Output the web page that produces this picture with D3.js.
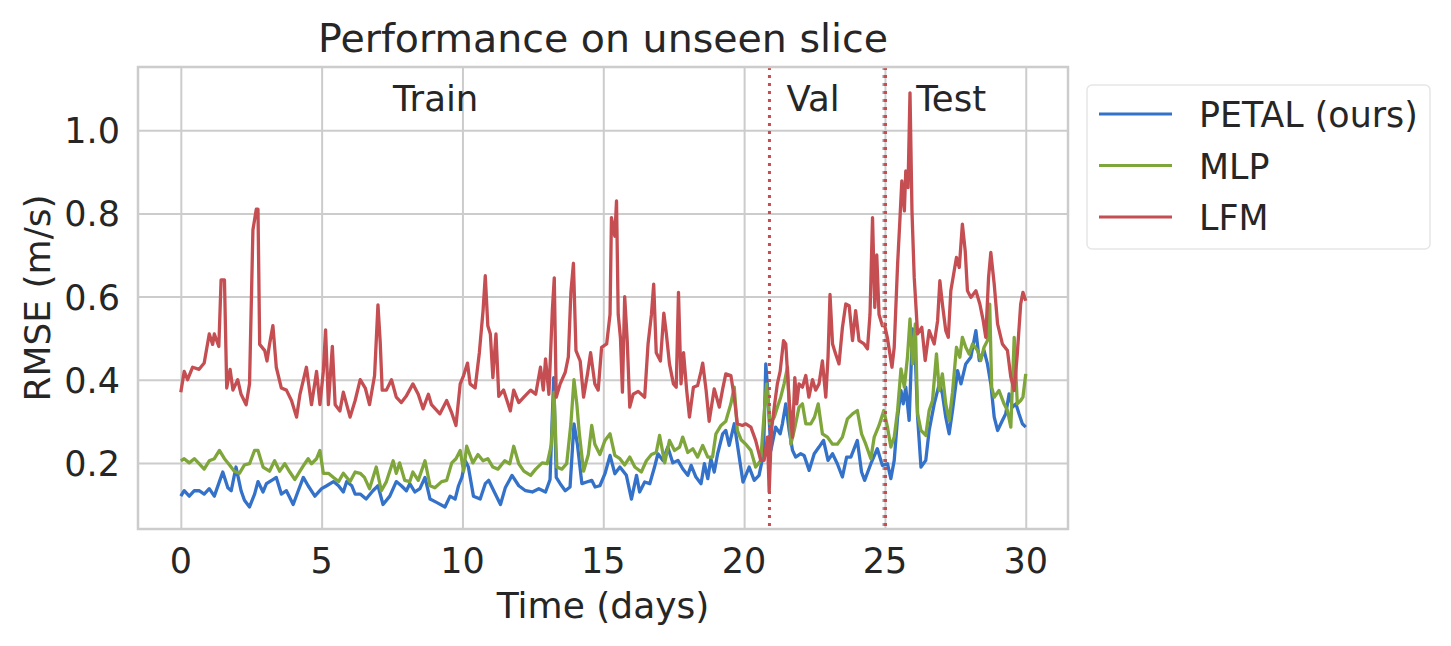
<!DOCTYPE html>
<html>
<head>
<meta charset="utf-8">
<script src="https://cdn.jsdelivr.net/npm/d3@7"></script>
<style>
  body{margin:0;background:#fff;}
  text{font-family:"DejaVu Sans",sans-serif;fill:#262626;}
</style>
</head>
<body>
<svg width="1451" height="646"></svg>
<script>
// данные: [день, RMSE]
const petal=[[0,0.12],[0.12,0.133],[0.3,0.12],[0.48,0.133],[0.65,0.133],[0.83,0.125],[1.01,0.138],[1.19,0.12],[1.37,0.155],[1.49,0.178],[1.67,0.14],[1.79,0.133],[1.96,0.19],[2.14,0.133],[2.26,0.11],[2.44,0.094],[2.62,0.125],[2.74,0.155],[2.92,0.13],[3.04,0.15],[3.27,0.16],[3.39,0.165],[3.57,0.125],[3.75,0.133],[3.99,0.1],[4.17,0.133],[4.35,0.165],[4.52,0.145],[4.76,0.12],[5.0,0.138],[5.18,0.145],[5.42,0.155],[5.6,0.145],[5.77,0.13],[5.89,0.155],[6.07,0.145],[6.19,0.125],[6.37,0.125],[6.58,0.113],[6.82,0.133],[7.0,0.145],[7.18,0.1],[7.42,0.12],[7.65,0.155],[7.83,0.145],[8.01,0.133],[8.13,0.15],[8.31,0.13],[8.49,0.138],[8.67,0.165],[8.85,0.113],[9.08,0.105],[9.38,0.094],[9.56,0.12],[9.74,0.113],[9.86,0.145],[9.98,0.165],[10.1,0.205],[10.21,0.19],[10.39,0.12],[10.63,0.113],[10.81,0.15],[10.93,0.158],[11.11,0.133],[11.35,0.1],[11.52,0.14],[11.76,0.17],[12.0,0.145],[12.24,0.133],[12.48,0.13],[12.71,0.138],[12.95,0.13],[13.11,0.16],[13.24,0.405],[13.33,0.165],[13.47,0.15],[13.65,0.133],[13.82,0.142],[13.96,0.294],[14.08,0.245],[14.24,0.15],[14.41,0.154],[14.59,0.158],[14.71,0.142],[14.88,0.145],[15.06,0.174],[15.24,0.218],[15.41,0.174],[15.59,0.19],[15.82,0.17],[16.0,0.113],[16.18,0.17],[16.29,0.13],[16.47,0.154],[16.65,0.15],[16.82,0.19],[16.94,0.222],[17.12,0.206],[17.29,0.238],[17.47,0.2],[17.65,0.206],[17.82,0.186],[18.0,0.17],[18.12,0.194],[18.29,0.166],[18.47,0.15],[18.59,0.198],[18.71,0.162],[18.82,0.21],[18.94,0.178],[19.06,0.222],[19.24,0.27],[19.35,0.278],[19.47,0.242],[19.65,0.294],[19.76,0.245],[19.88,0.19],[19.96,0.154],[20.18,0.19],[20.36,0.158],[20.53,0.17],[20.69,0.222],[20.77,0.438],[20.83,0.382],[20.95,0.23],[21.12,0.286],[21.28,0.27],[21.36,0.294],[21.48,0.342],[21.6,0.278],[21.72,0.23],[21.83,0.214],[22.01,0.222],[22.13,0.218],[22.31,0.182],[22.49,0.222],[22.66,0.238],[22.82,0.254],[22.98,0.206],[23.14,0.222],[23.31,0.198],[23.49,0.166],[23.64,0.214],[23.79,0.214],[24.02,0.254],[24.17,0.178],[24.28,0.158],[24.5,0.198],[24.73,0.234],[24.91,0.194],[25.09,0.198],[25.21,0.162],[25.33,0.206],[25.45,0.31],[25.57,0.374],[25.65,0.342],[25.74,0.382],[25.86,0.302],[25.98,0.522],[26.08,0.454],[26.16,0.31],[26.28,0.19],[26.45,0.206],[26.57,0.278],[26.75,0.342],[26.93,0.39],[27.04,0.366],[27.16,0.31],[27.28,0.27],[27.4,0.326],[27.58,0.422],[27.7,0.39],[27.87,0.438],[28.05,0.454],[28.23,0.518],[28.35,0.446],[28.52,0.47],[28.64,0.438],[28.76,0.39],[28.88,0.31],[29.0,0.278],[29.17,0.302],[29.29,0.318],[29.41,0.366],[29.53,0.334],[29.65,0.342],[29.76,0.318],[29.88,0.294],[30.0,0.286]];

const mlp=[[0,0.205],[0.12,0.21],[0.3,0.2],[0.48,0.21],[0.65,0.198],[0.83,0.185],[1.01,0.205],[1.19,0.21],[1.37,0.23],[1.55,0.21],[1.73,0.195],[1.9,0.18],[2.08,0.175],[2.26,0.195],[2.44,0.198],[2.62,0.23],[2.74,0.23],[2.92,0.19],[3.15,0.18],[3.33,0.205],[3.51,0.18],[3.69,0.198],[3.87,0.178],[4.05,0.16],[4.23,0.18],[4.4,0.198],[4.52,0.21],[4.64,0.198],[4.82,0.21],[4.94,0.23],[5.06,0.175],[5.24,0.175],[5.42,0.165],[5.6,0.155],[5.77,0.175],[6.01,0.155],[6.19,0.178],[6.37,0.175],[6.52,0.165],[6.7,0.138],[6.94,0.19],[7.12,0.133],[7.3,0.155],[7.54,0.205],[7.65,0.175],[7.77,0.2],[7.95,0.158],[8.13,0.155],[8.24,0.178],[8.43,0.158],[8.67,0.205],[8.85,0.145],[9.02,0.14],[9.26,0.155],[9.44,0.158],[9.62,0.2],[9.77,0.21],[9.92,0.23],[10.04,0.18],[10.15,0.24],[10.37,0.2],[10.55,0.22],[10.73,0.205],[10.9,0.21],[11.08,0.19],[11.26,0.185],[11.5,0.205],[11.68,0.198],[11.82,0.24],[12.0,0.198],[12.18,0.18],[12.42,0.17],[12.6,0.185],[12.83,0.2],[13.01,0.198],[13.16,0.245],[13.25,0.37],[13.35,0.19],[13.53,0.185],[13.7,0.198],[13.85,0.294],[13.96,0.4],[14.06,0.342],[14.15,0.27],[14.3,0.18],[14.47,0.22],[14.59,0.29],[14.7,0.245],[14.88,0.22],[15.06,0.254],[15.24,0.27],[15.41,0.218],[15.59,0.21],[15.76,0.195],[15.94,0.214],[16.12,0.19],[16.35,0.178],[16.53,0.205],[16.71,0.22],[16.88,0.225],[17.0,0.266],[17.18,0.2],[17.35,0.254],[17.53,0.23],[17.71,0.238],[17.82,0.262],[18.0,0.225],[18.18,0.234],[18.35,0.214],[18.53,0.242],[18.71,0.214],[18.88,0.214],[19.0,0.27],[19.18,0.29],[19.35,0.3],[19.53,0.342],[19.65,0.382],[19.76,0.278],[19.9,0.255],[20.06,0.245],[20.24,0.23],[20.41,0.19],[20.59,0.206],[20.73,0.334],[20.8,0.39],[20.92,0.294],[21.07,0.31],[21.18,0.334],[21.3,0.358],[21.42,0.39],[21.54,0.43],[21.66,0.245],[21.78,0.278],[21.95,0.334],[22.07,0.342],[22.19,0.294],[22.37,0.294],[22.5,0.31],[22.63,0.342],[22.78,0.27],[22.96,0.262],[23.14,0.245],[23.31,0.245],[23.49,0.262],[23.67,0.306],[23.85,0.318],[24.02,0.326],[24.17,0.27],[24.32,0.245],[24.5,0.21],[24.62,0.262],[24.79,0.29],[24.96,0.326],[25.09,0.286],[25.21,0.238],[25.33,0.262],[25.45,0.326],[25.57,0.426],[25.69,0.382],[25.8,0.454],[25.89,0.546],[25.98,0.438],[26.08,0.534],[26.16,0.318],[26.28,0.278],[26.45,0.266],[26.57,0.326],[26.69,0.35],[26.83,0.462],[26.93,0.374],[27.04,0.414],[27.16,0.342],[27.28,0.302],[27.4,0.37],[27.54,0.478],[27.66,0.454],[27.75,0.502],[27.87,0.478],[27.99,0.462],[28.11,0.486],[28.29,0.47],[28.4,0.446],[28.52,0.478],[28.64,0.494],[28.72,0.582],[28.79,0.382],[28.88,0.358],[29.05,0.374],[29.23,0.342],[29.35,0.326],[29.47,0.286],[29.59,0.502],[29.7,0.342],[29.82,0.35],[29.9,0.358],[30.0,0.414]];

const lfm=[[0,0.37],[0.12,0.42],[0.24,0.4],[0.42,0.43],[0.65,0.425],[0.83,0.44],[1.01,0.51],[1.13,0.485],[1.19,0.51],[1.35,0.48],[1.43,0.64],[1.55,0.64],[1.63,0.38],[1.75,0.425],[1.85,0.375],[2.02,0.4],[2.14,0.365],[2.32,0.34],[2.44,0.39],[2.56,0.76],[2.68,0.81],[2.74,0.81],[2.8,0.485],[2.98,0.47],[3.06,0.445],[3.15,0.485],[3.27,0.53],[3.39,0.43],[3.57,0.38],[3.75,0.375],[3.93,0.35],[4.11,0.31],[4.23,0.365],[4.46,0.43],[4.64,0.34],[4.82,0.42],[4.94,0.34],[5.06,0.42],[5.14,0.52],[5.24,0.34],[5.38,0.48],[5.48,0.34],[5.65,0.325],[5.77,0.37],[6.01,0.31],[6.19,0.35],[6.37,0.4],[6.55,0.38],[6.7,0.34],[6.88,0.41],[7.0,0.58],[7.08,0.49],[7.15,0.375],[7.3,0.375],[7.48,0.4],[7.65,0.358],[7.83,0.345],[8.0,0.36],[8.24,0.39],[8.43,0.365],[8.6,0.33],[8.79,0.365],[8.9,0.34],[9.2,0.318],[9.44,0.35],[9.62,0.32],[9.77,0.29],[9.92,0.39],[10.04,0.41],[10.18,0.44],[10.27,0.39],[10.45,0.38],[10.6,0.465],[10.73,0.565],[10.81,0.65],[10.9,0.53],[10.99,0.51],[11.08,0.405],[11.19,0.51],[11.29,0.36],[11.46,0.375],[11.7,0.325],[11.82,0.375],[12.0,0.345],[12.18,0.358],[12.42,0.375],[12.6,0.365],[12.77,0.43],[12.87,0.375],[12.95,0.45],[13.07,0.365],[13.19,0.565],[13.26,0.645],[13.33,0.358],[13.47,0.39],[13.65,0.418],[13.76,0.455],[13.85,0.61],[13.94,0.68],[14.03,0.47],[14.18,0.445],[14.3,0.358],[14.44,0.414],[14.55,0.465],[14.7,0.39],[14.82,0.375],[14.94,0.478],[15.12,0.486],[15.24,0.557],[15.29,0.79],[15.41,0.745],[15.47,0.83],[15.53,0.557],[15.61,0.5],[15.68,0.37],[15.76,0.6],[15.85,0.494],[15.94,0.334],[16.06,0.365],[16.24,0.372],[16.47,0.358],[16.59,0.486],[16.71,0.557],[16.79,0.63],[16.88,0.465],[17.03,0.445],[17.15,0.56],[17.24,0.51],[17.35,0.438],[17.49,0.39],[17.59,0.382],[17.67,0.61],[17.76,0.39],[17.85,0.465],[17.96,0.375],[18.06,0.31],[18.2,0.382],[18.35,0.386],[18.47,0.42],[18.53,0.44],[18.65,0.375],[18.76,0.3],[18.94,0.378],[19.12,0.334],[19.24,0.378],[19.35,0.414],[19.53,0.41],[19.65,0.358],[19.76,0.294],[19.94,0.29],[20.06,0.294],[20.24,0.286],[20.41,0.254],[20.59,0.206],[20.71,0.206],[20.83,0.262],[20.89,0.13],[20.97,0.278],[21.07,0.334],[21.18,0.39],[21.28,0.42],[21.4,0.494],[21.48,0.486],[21.6,0.35],[21.72,0.262],[21.8,0.405],[21.87,0.342],[21.95,0.39],[22.07,0.382],[22.19,0.41],[22.3,0.358],[22.43,0.4],[22.54,0.375],[22.66,0.39],[22.78,0.445],[22.9,0.358],[22.98,0.455],[23.05,0.605],[23.14,0.486],[23.25,0.462],[23.37,0.438],[23.49,0.525],[23.61,0.582],[23.73,0.578],[23.85,0.494],[23.96,0.566],[24.08,0.494],[24.26,0.486],[24.38,0.474],[24.47,0.557],[24.56,0.79],[24.64,0.574],[24.71,0.7],[24.79,0.557],[24.91,0.53],[24.98,0.534],[25.09,0.5],[25.25,0.43],[25.33,0.478],[25.45,0.678],[25.53,0.782],[25.6,0.878],[25.69,0.806],[25.74,0.902],[25.82,0.862],[25.89,1.09],[25.96,0.806],[26.04,0.646],[26.16,0.51],[26.31,0.526],[26.43,0.446],[26.57,0.518],[26.75,0.486],[26.87,0.542],[26.95,0.638],[27.04,0.582],[27.16,0.518],[27.25,0.502],[27.34,0.614],[27.46,0.662],[27.54,0.694],[27.64,0.67],[27.75,0.774],[27.85,0.71],[27.93,0.614],[28.05,0.598],[28.23,0.614],[28.37,0.582],[28.49,0.542],[28.58,0.502],[28.68,0.646],[28.76,0.706],[28.88,0.63],[29.0,0.534],[29.17,0.486],[29.35,0.47],[29.47,0.406],[29.59,0.374],[29.7,0.462],[29.82,0.582],[29.9,0.61],[30.0,0.59]];

const seriesNames=['PETAL (ours)','MLP','LFM'];
const xTicks=[0,5,10,15,20,25,30];
const yTicks=[0.2,0.4,0.6,0.8,1.0];
const splitDays=[20.9,25.02]; // границы val / test
const regionLabels=[{name:'Train',day:9.05},{name:'Val',day:22.45},{name:'Test',day:27.35}];

const colors=['#3471c8','#7fa63a','#c44e52'];
const grid='#cccccc';

function drawChart(){
  const svg=d3.select('svg');
  const left=138, right=1068, top=67, bottom=529;

  const x=d3.scaleLinear().domain([-1.52,31.5]).range([left,right]);
  const y=d3.scaleLinear().domain([0.041,1.152]).range([bottom,top]);

  // сетка
  svg.append('g').attr('transform',`translate(0,${bottom})`)
    .call(d3.axisBottom(x).tickValues(xTicks).tickSize(-(bottom-top)).tickFormat(''))
    .call(g=>g.select('.domain').remove())
    .call(g=>g.selectAll('line').attr('stroke',grid).attr('stroke-width',2));
  svg.append('g').attr('transform',`translate(${left},0)`)
    .call(d3.axisLeft(y).tickValues(yTicks).tickSize(-(right-left)).tickFormat(''))
    .call(g=>g.select('.domain').remove())
    .call(g=>g.selectAll('line').attr('stroke',grid).attr('stroke-width',2));

  // подписи тиков
  svg.append('g').selectAll('text').data(xTicks).join('text')
    .attr('x',d=>x(d)).attr('y',573).attr('text-anchor','middle')
    .style('font-size','35px').text(d=>d);
  svg.append('g').selectAll('text').data(yTicks).join('text')
    .attr('x',120).attr('y',d=>y(d)+13).attr('text-anchor','end')
    .style('font-size','35px').text(d=>d3.format('.1f')(d));

  // линии
  const line=d3.line().x(d=>x(d[0])).y(d=>y(d[1]));
  [petal,mlp,lfm].forEach((s,i)=>{
    svg.append('path').attr('d',line(s))
      .attr('fill','none').attr('stroke',colors[i])
      .attr('stroke-width',3.3).attr('stroke-linejoin','round');
  });

  // вертикальные пунктиры
  svg.append('line').attr('x1',x(splitDays[1])-1.5).attr('x2',x(splitDays[1])-1.5)
    .attr('y1',top).attr('y2',bottom).attr('stroke','#999').attr('stroke-width',3)
    .attr('stroke-dasharray','3,5');
  splitDays.forEach(d=>{
    svg.append('line').attr('x1',x(d)).attr('x2',x(d))
      .attr('y1',top).attr('y2',bottom).attr('stroke',colors[2]).attr('stroke-width',3)
      .attr('stroke-dasharray','3,5');
  });

  // рамка
  svg.append('rect').attr('x',left).attr('y',top)
    .attr('width',right-left).attr('height',bottom-top)
    .attr('fill','none').attr('stroke',grid).attr('stroke-width',2.5);

  regionLabels.forEach(r=>{
    svg.append('text').attr('x',x(r.day)).attr('y',110.5)
      .attr('text-anchor','middle').style('font-size','35.5px').text(r.name);
  });

  // заголовок и оси
  svg.append('text').attr('x',(left+right)/2).attr('y',52)
    .attr('text-anchor','middle').style('font-size','39.5px').text('Performance on unseen slice');
  svg.append('text').attr('x',(left+right)/2).attr('y',618)
    .attr('text-anchor','middle').style('font-size','36px').text('Time (days)');
  svg.append('text').attr('transform',`translate(50,${(top+bottom)/2}) rotate(-90)`)
    .attr('text-anchor','middle').style('font-size','36px').text('RMSE (m/s)');

  // легенда
  const lg=svg.append('g');
  lg.append('rect').attr('x',1087).attr('y',85).attr('width',343).attr('height',164)
    .attr('rx',5).attr('fill','#fff').attr('stroke','#e6e6e6').attr('stroke-width',1.5);
  seriesNames.forEach((n,i)=>{
    const ly=114+i*51.5;
    lg.append('line').attr('x1',1099).attr('x2',1172).attr('y1',ly).attr('y2',ly)
      .attr('stroke',colors[i]).attr('stroke-width',3);
    lg.append('text').attr('x',1199).attr('y',ly+13).style('font-size','34.8px').text(n);
  });
}

drawChart();
</script>
</body>
</html>
